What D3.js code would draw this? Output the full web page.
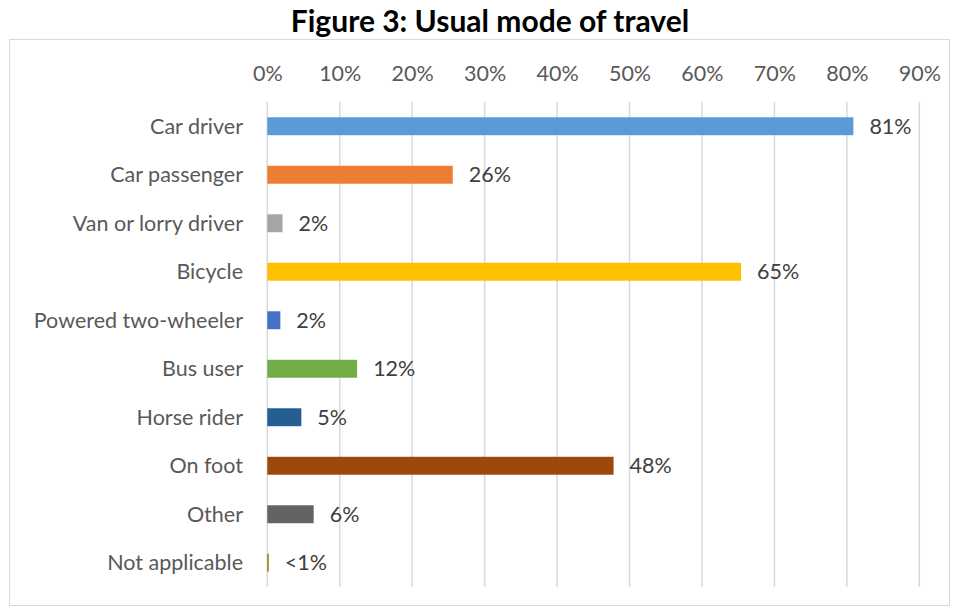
<!DOCTYPE html>
<html>
<head>
<meta charset="utf-8">
<script src="https://cdn.jsdelivr.net/npm/d3@7"></script>
<style>
    body { margin: 0; background: #fff; }
    text { font-family: Lato, "Open Sans", sans-serif; }
</style>
</head>
<body>
<div id="chart"></div>
<script>
const categories = ['Car driver', 'Car passenger', 'Van or lorry driver', 'Bicycle',
    'Powered two-wheeler', 'Bus user', 'Horse rider', 'On foot', 'Other', 'Not applicable'];
const values = [80.9, 25.6, 2.1, 65.4, 1.8, 12.4, 4.7, 47.8, 6.4, 0.2];
const valueLabels = ['81%', '26%', '2%', '65%', '2%', '12%', '5%', '48%', '6%', '<1%'];
const barColors = ['#5B9BD5', '#ED7D31', '#A5A5A5', '#FFC000', '#4472C4',
    '#70AD47', '#255E91', '#9E480E', '#636363', '#997300'];
const tickValues = [0, 10, 20, 30, 40, 50, 60, 70, 80, 90];

const width = 958;
const height = 609;
const fontSize = '21.5px';

const svg = d3.select('#chart')
    .append('svg')
    .attr('width', width)
    .attr('height', height);

// chart area border
svg.append('rect')
    .attr('x', 9.5)
    .attr('y', 39.5)
    .attr('width', 940)
    .attr('height', 566)
    .style('fill', 'none')
    .style('stroke', '#d9d9d9');

svg.append('text')
    .attr('x', 490)
    .attr('y', 32)
    .attr('text-anchor', 'middle')
    .style('font-size', '30px')
    .style('font-weight', 'bold')
    .style('fill', '#000')
    .text('Figure 3: Usual mode of travel');

const scaleX = d3.scaleLinear()
    .domain([0, 90])
    .range([267.3, 919.3]);

const scaleY = d3.scaleBand()
    .domain(categories)
    .range([102, 587])
    .paddingInner(0.63)
    .paddingOuter(0.315);

// gridlines
svg.selectAll('.grid-line')
    .data(tickValues)
    .join('line')
    .attr('x1', d => scaleX(d))
    .attr('x2', d => scaleX(d))
    .attr('y1', 102)
    .attr('y2', 587)
    .style('stroke', '#d9d9d9')
    .style('stroke-width', 1.5)
    .classed('grid-line', true);

// top axis labels
const axis = svg.append('g')
    .attr('transform', 'translate(0, 81)')
    .call(d3.axisTop(scaleX).tickValues(tickValues).tickFormat(d => d + '%').tickSize(0).tickPadding(0));
axis.select('.domain').remove();
axis.selectAll('text')
    .style('font-family', 'Lato, "Open Sans", sans-serif')
    .style('font-size', fontSize)
    .style('fill', '#595959');

// bars
svg.selectAll('.bar')
    .data(values)
    .join('rect')
    .attr('x', scaleX(0))
    .attr('y', (d, i) => scaleY(categories[i]))
    .attr('width', d => scaleX(d) - scaleX(0))
    .attr('height', scaleY.bandwidth())
    .style('fill', (d, i) => barColors[i])
    .classed('bar', true);

// category labels
svg.selectAll('.cat-label')
    .data(categories)
    .join('text')
    .attr('x', 243)
    .attr('y', d => scaleY(d) + scaleY.bandwidth() / 2)
    .attr('dy', '0.35em')
    .attr('text-anchor', 'end')
    .style('font-size', fontSize)
    .style('fill', '#595959')
    .classed('cat-label', true)
    .text(d => d);

// value labels
svg.selectAll('.value-label')
    .data(values)
    .join('text')
    .attr('x', d => scaleX(d) + 16)
    .attr('y', (d, i) => scaleY(categories[i]) + scaleY.bandwidth() / 2)
    .attr('dy', '0.35em')
    .style('font-size', fontSize)
    .style('fill', '#404040')
    .classed('value-label', true)
    .text((d, i) => valueLabels[i]);
</script>
</body>
</html>
